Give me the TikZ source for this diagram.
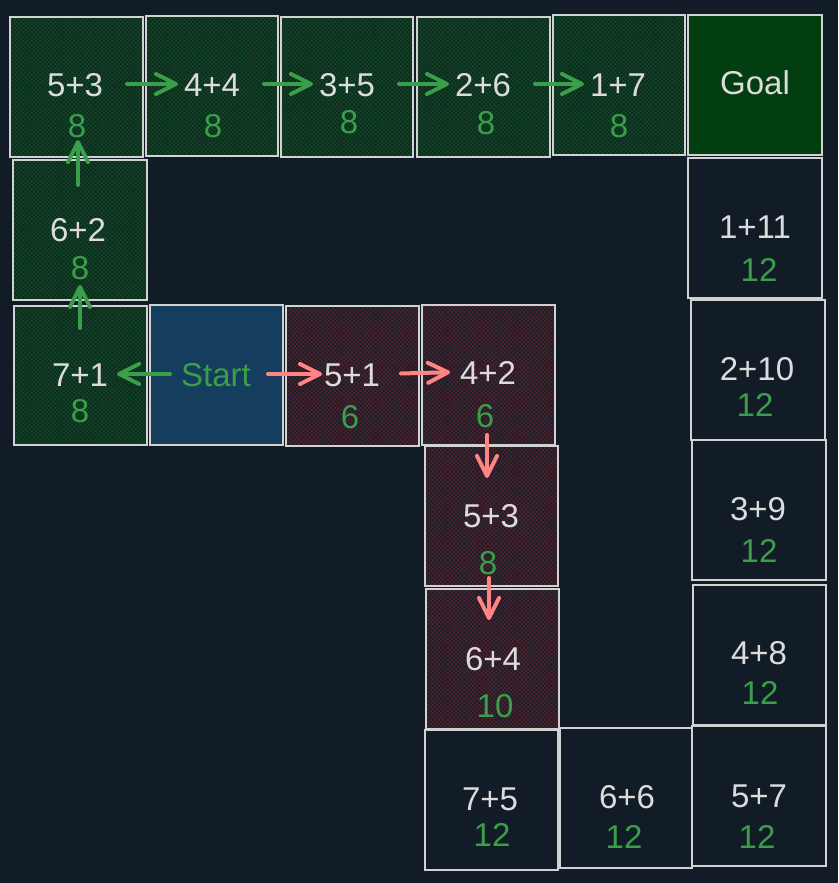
\documentclass[tikz,border=0pt]{standalone}
\usepackage{fontspec}
\setmainfont{Liberation Sans}
\usetikzlibrary{arrows.meta,patterns.meta}
\definecolor{bg}{HTML}{121C27}
\definecolor{edge}{HTML}{D2D2D2}
\definecolor{txt}{HTML}{DCDCDC}
\definecolor{gtxt}{HTML}{3A9E4A}
\definecolor{gbase}{HTML}{0C2A1B}
\definecolor{ghatch}{HTML}{13442A}
\definecolor{rbase}{HTML}{1A1C26}
\definecolor{rhatch}{HTML}{4C2430}
\definecolor{startfill}{HTML}{153E5E}
\definecolor{goalfill}{HTML}{033E10}
\definecolor{rarrow}{HTML}{FF8585}
\tikzset{
  box/.style={draw=edge, line width=1.3pt, inner sep=0pt, outer sep=0pt},
  plainbox/.style={box, fill=bg},
  greenbox/.style={box,
    preaction={fill=gbase},
    preaction={pattern={Lines[angle=45,distance=3pt,line width=0.8pt]}, pattern color=ghatch},
    pattern={Lines[angle=-45,distance=3pt,line width=0.8pt]}, pattern color=ghatch},
  redbox/.style={box,
    preaction={fill=rbase},
    preaction={pattern={Lines[angle=45,distance=3pt,line width=0.8pt]}, pattern color=rhatch},
    pattern={Lines[angle=-45,distance=3pt,line width=0.8pt]}, pattern color=rhatch},
  startbox/.style={box, fill=startfill},
  goalbox/.style={box, fill=goalfill},
  expr/.style={text=txt, font=\fontsize{33}{36}\selectfont, inner sep=0pt, outer sep=0pt,
    text height=24pt, text depth=0pt, minimum width=58pt},
  num/.style={text=gtxt, font=\fontsize{33}{36}\selectfont, inner sep=0pt, outer sep=0pt,
    text height=24pt, text depth=0pt},
  garrow/.style={draw=gtxt, line width=4pt, line cap=round,
    -{Straight Barb[length=20pt,width=20pt,line width=4pt,round]}},
  rarrowst/.style={draw=rarrow, line width=4pt, line cap=round,
    -{Straight Barb[length=20pt,width=20pt,line width=4pt,round]}},
}
\newcommand\cellbox[6]{\node[#2, minimum width={(#5)-(#3)}, minimum height={(#6)-(#4)}] (#1) at ({((#3)+(#5))/2},{((#4)+(#6))/2}) {};}
\begin{document}
\begin{tikzpicture}[x=1pt,y=-1pt]
\fill[bg] (0,0) rectangle (838,883);
\useasboundingbox (0,0) rectangle (838,883);
% boxes
\cellbox{bA}{greenbox}{10}{17}{143}{157}
\cellbox{bB}{greenbox}{146}{16}{278}{156}
\cellbox{bC}{greenbox}{281}{17}{413}{157}
\cellbox{bD}{greenbox}{417}{17}{550}{157}
\cellbox{bE}{greenbox}{553}{15}{685}{155}
\cellbox{bF}{goalbox}{688}{15}{822}{155}
\cellbox{bG}{greenbox}{13}{160}{147}{300}
\cellbox{bH}{plainbox}{688}{158}{822}{298}
\cellbox{bI}{greenbox}{14}{306}{147}{445}
\cellbox{bJ}{startbox}{150}{305}{283}{445}
\cellbox{bK}{redbox}{286}{306}{419}{446}
\cellbox{bL}{redbox}{422}{305}{555}{445}
\cellbox{bM}{plainbox}{691}{300}{825}{440}
\cellbox{bN}{redbox}{425}{446}{558}{586}
\cellbox{bO}{plainbox}{692}{440}{826}{580}
\cellbox{bP}{redbox}{426}{589}{559}{729}
\cellbox{bQ}{plainbox}{693}{585}{826}{725}
\cellbox{bR}{plainbox}{425}{730}{558}{870}
\cellbox{bS}{plainbox}{560}{728}{692}{868}
\cellbox{bT}{plainbox}{692}{726}{826}{866}
% texts
\node[expr] (eA) at (75,84) {5+3};   \node[num] (nA) at (77,125) {8};
\node[expr] (eB) at (212,84) {4+4};  \node[num] (nB) at (213,125) {8};
\node[expr] (eC) at (347,84) {3+5};  \node[num] (nC) at (349,121) {8};
\node[expr] (eD) at (483,84) {2+6};  \node[num] (nD) at (486,122) {8};
\node[expr] (eE) at (618,84) {1+7};  \node[num] (nE) at (619,125) {8};
\node[expr, minimum width=74pt] (eF) at (755,82) {Goal};
\node[expr] (eG) at (78,229) {6+2};  \node[num] (nG) at (80,267) {8};
\node[expr] (eH) at (755,226) {1+11}; \node[num] (nH) at (759,269) {12};
\node[expr] (eI) at (80,374) {7+1};  \node[num] (nI) at (80,410) {8};
\node[expr, text=gtxt, minimum width=92pt] (eJ) at (216,374) {Start};
\node[expr] (eK) at (352,374) {5+1}; \node[num] (nK) at (350,416) {6};
\node[expr] (eL) at (488,372) {4+2}; \node[num] (nL) at (485,415) {6};
\node[expr] (eM) at (757,368) {2+10}; \node[num] (nM) at (755,404) {12};
\node[expr] (eN) at (491,515) {5+3}; \node[num] (nN) at (488,562) {8};
\node[expr] (eO) at (758,508) {3+9}; \node[num] (nO) at (759,550) {12};
\node[expr] (eP) at (493,658) {6+4}; \node[num] (nP) at (495,705) {10};
\node[expr] (eQ) at (759,652) {4+8}; \node[num] (nQ) at (760,692) {12};
\node[expr] (eR) at (490,798) {7+5}; \node[num] (nR) at (492,834) {12};
\node[expr] (eS) at (627,796) {6+6}; \node[num] (nS) at (624,836) {12};
\node[expr] (eT) at (759,795) {5+7}; \node[num] (nT) at (757,836) {12};
% green arrows
\draw[garrow, shorten <=23pt, shorten >=5pt] (eA.east) -- (eB.west);
\draw[garrow, shorten <=23pt, shorten >=5pt] (eB.east) -- (eC.west);
\draw[garrow, shorten <=23pt, shorten >=5pt] (eC.east) -- (eD.west);
\draw[garrow, shorten <=23pt, shorten >=5pt] (eD.east) -- (eE.west);
\draw[garrow, shorten <=32pt, shorten >=3pt] (eG.north) -- (eG.north |- nA.south);
\draw[garrow, shorten <=34pt, shorten >=6pt] (eI.north) -- (eI.north |- nG.south);
\draw[garrow, shorten <=0pt, shorten >=8pt] (eJ.west) -- (eI.east);
% red arrows
\draw[rarrowst, shorten <=6pt, shorten >=1pt] (eJ.east) -- (eK.west);
\draw[rarrowst, shorten <=20pt, shorten >=9pt] (eK.east) -- (eL.west);
\draw[rarrowst, shorten <=8pt, shorten >=25pt] ([xshift=2pt]nL.south) -- ([xshift=2pt]nL.south |- eN.north);
\draw[rarrowst, shorten <=4pt, shorten >=26pt] ([xshift=1pt]nN.south) -- ([xshift=1pt]nN.south |- eP.north);
\end{tikzpicture}
\end{document}
